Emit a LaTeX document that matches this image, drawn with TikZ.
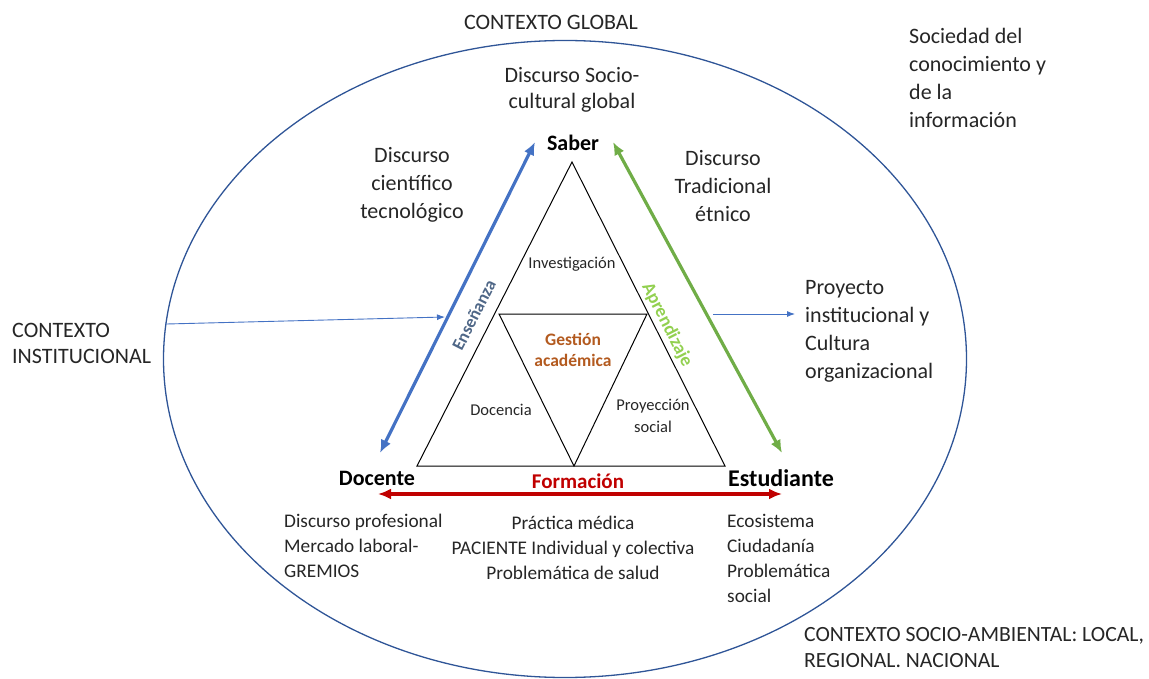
\documentclass[tikz,border=0pt]{standalone}
\usepackage{fontspec}
\setmainfont{Carlito}
\usetikzlibrary{shapes,shapes.geometric,arrows,calc,positioning,arrows.meta}
\definecolor{ctxblue}{HTML}{2F5597}
\definecolor{ensblue}{HTML}{4472C4}
\definecolor{enstext}{HTML}{4F6787}
\definecolor{aprgreen}{HTML}{70AD47}
\definecolor{aprtext}{HTML}{92D050}
\definecolor{forred}{HTML}{C00000}
\definecolor{gesbrown}{HTML}{B35A1F}
\definecolor{txtgray}{HTML}{262626}

\begin{document}
\begin{tikzpicture}[
    x=1pt,y=-1pt,
    txt/.style={font=\fontsize{22}{27}\selectfont,text=txtgray,inner sep=2pt,align=center},
    low/.style={font=\fontsize{19.3}{25}\selectfont,text=txtgray,inner sep=2pt},
    small/.style={font=\fontsize{16.5}{22}\selectfont,text=txtgray,inner sep=1pt,align=center},
    pole/.style={font=\fontsize{22}{27}\selectfont\bfseries,inner sep=2pt},
    side/.style={font=\fontsize{17.5}{21}\selectfont\bfseries,inner sep=1pt},
    bigarr/.style={{Latex[length=13pt,width=11pt]}-{Latex[length=13pt,width=11pt]},line width=3.2pt},
    thinarr/.style={-{Latex[length=8pt,width=6pt]},draw=ensblue,line width=0.9pt}]
    \useasboundingbox (0,0) rectangle (1149,679);

    % global context
    \node[draw=ctxblue,ellipse,line width=1.3pt,minimum width=803pt,minimum height=637pt,inner sep=0] (ctx) at (565,359) {};
    \node[txt] (global) at (551,22) {CONTEXTO GLOBAL};
    \node[txt,anchor=west,align=left,font=\fontsize{22}{28}\selectfont] (sociedad) at (907,78) {Sociedad del\\conocimiento y\\de la\\información};
    \node[txt,anchor=west,align=left,font=\fontsize{22}{26}\selectfont] (instit) at (10,343) {CONTEXTO\\INSTITUCIONAL};
    \node[txt,anchor=west,align=left,font=\fontsize{22}{28}\selectfont] (proyecto) at (803,331) {Proyecto\\institucional y\\Cultura\\organizacional};
    \node[txt,anchor=west,align=left,font=\fontsize{21.7}{26}\selectfont] (socamb) at (802,648) {CONTEXTO SOCIO-AMBIENTAL: LOCAL,\\REGIONAL. NACIONAL};

    % poles
    \node[pole] (saber) at (573,143) {Saber};
    \node[pole] (docente) at (377,478) {Docente};
    \node[pole,font=\fontsize{24}{28}\selectfont\bfseries] (estud) at (781,478) {Estudiante};

    % discourses
    \node[txt,font=\fontsize{22}{26}\selectfont] (sociocult) at (572,90) {Discurso Socio-\\cultural global};
    \node[txt,font=\fontsize{22}{28}\selectfont] (cientif) at (412,185) {Discurso\\científico\\tecnológico};
    \node[txt,font=\fontsize{22}{28}\selectfont] (tradic) at (723,186) {Discurso\\Tradicional\\étnico};
    \node[low,anchor=west,align=left] (profes) at (282,546) {Discurso profesional\\Mercado laboral-\\GREMIOS};
    \node[low,align=center] (practica) at (573,548) {Práctica médica\\PACIENTE Individual y colectiva\\Problemática de salud};
    \node[low,anchor=west,align=left] (ecosis) at (725,558) {Ecosistema\\Ciudadanía\\Problemática\\social};

    % triangles
    \coordinate (tA) at (572,162);
    \coordinate (tB) at (417,466);
    \coordinate (tC) at (725,466);
    \coordinate (iA) at (499,314);
    \coordinate (iB) at (647,314);
    \coordinate (iC) at (574,466);
    \draw[line width=1pt] (tA) -- (tB) -- (tC) -- cycle;
    \draw[line width=1pt] (iA) -- (iB) -- (iC) -- cycle;

    \node[small] (investig) at (572,264) {Investigación};
    \node[small] (docencia) at (501,410) {Docencia};
    \node[small] (proysoc) at (653,416) {Proyección\\social};
    \node[side,text=gesbrown,align=center] (gestion) at (573,350) {Gestión\\académica};
    \node[side,text=enstext,rotate=63] (ensenanza) at (474,315) {Enseñanza};
    \node[side,text=aprtext,rotate=-63,font=\fontsize{18.5}{22}\selectfont\bfseries] (aprend) at (667,325) {Aprendizaje};
    \node[pole,text=forred,font=\fontsize{21}{25}\selectfont\bfseries] (formacion) at (578,481) {Formación};

    % relations
    \coordinate (ensS) at (380,453);
    \coordinate (ensE) at (535,142);
    \coordinate (aprS) at (613,142);
    \coordinate (aprE) at (782,453);
    \coordinate (forS) at (378,494);
    \coordinate (forE) at (782,494);
    \draw[bigarr,draw=ensblue,fill=ensblue] (ensS) -- (ensE);
    \draw[bigarr,draw=aprgreen,fill=aprgreen] (aprS) -- (aprE);
    \draw[bigarr,draw=forred,fill=forred] (forS) -- (forE);

    \coordinate (instE) at (445,317);
    \coordinate (proyS) at (713,314);
    \coordinate (proyE) at (795,314);
    \draw[thinarr] (ctx.175) -- (instE);
    \draw[thinarr] (proyS) -- (proyE);
\end{tikzpicture}
\end{document}
